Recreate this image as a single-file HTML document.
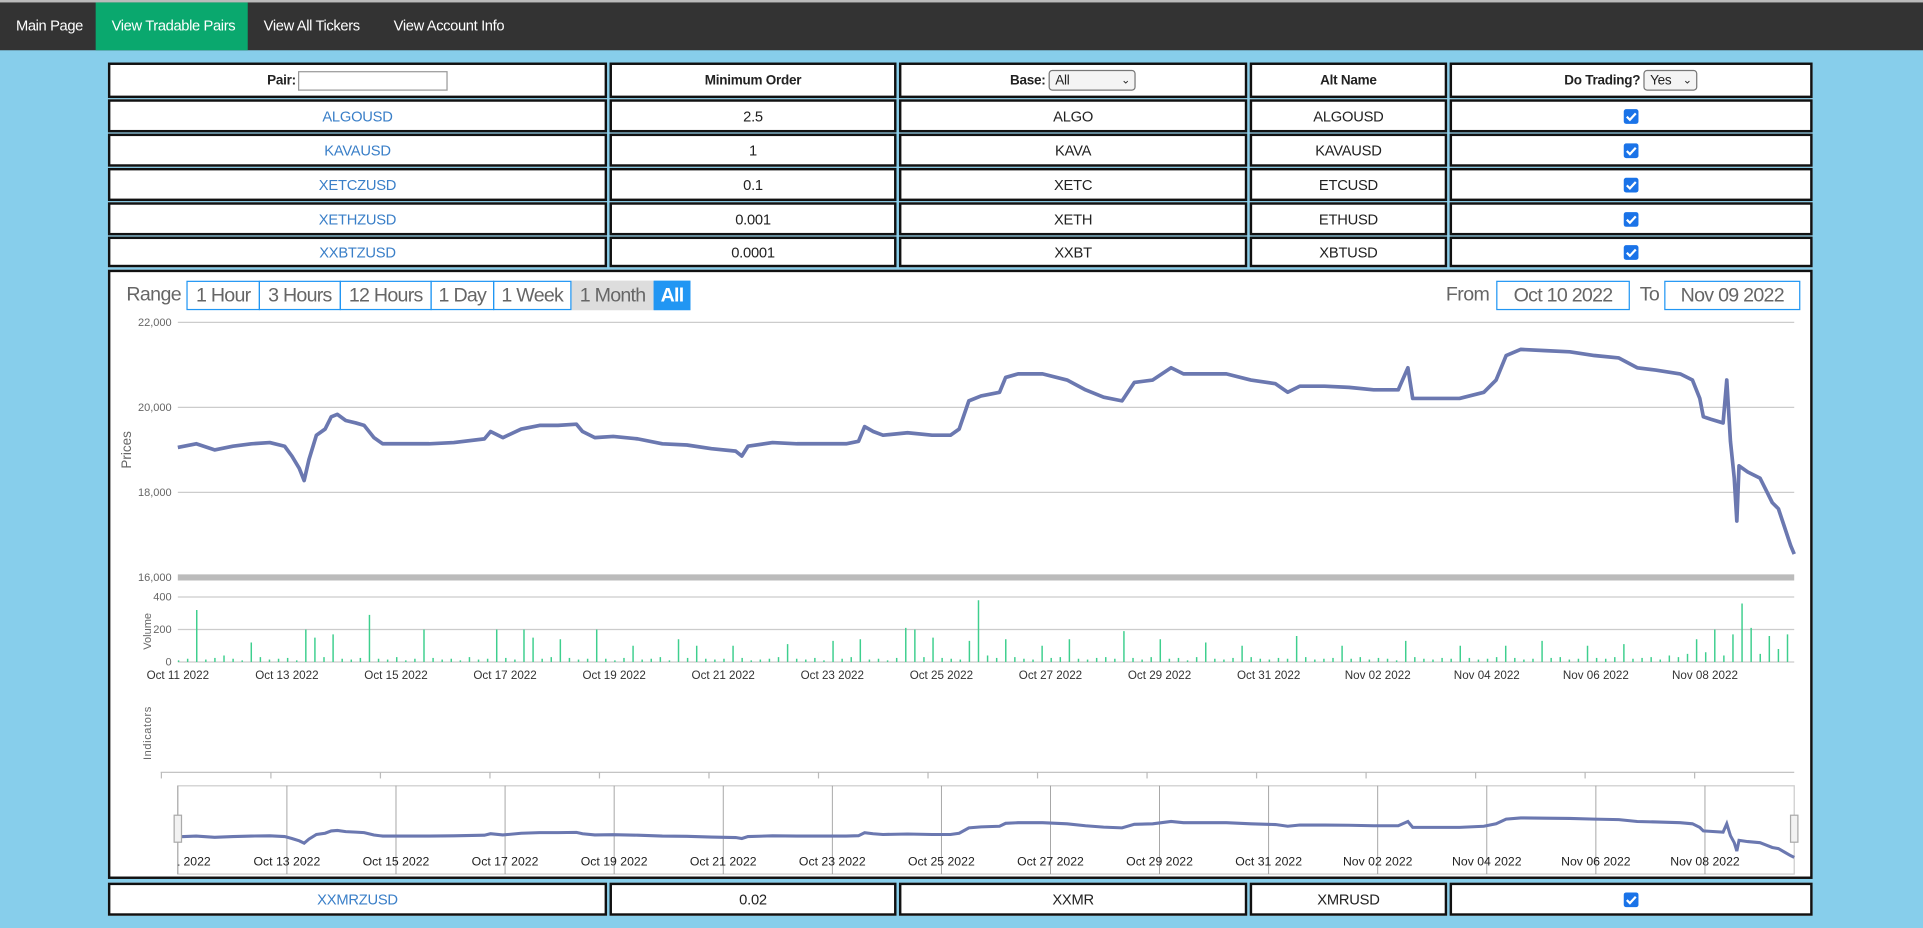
<!DOCTYPE html>
<html><head><meta charset="utf-8">
<style>
html,body{margin:0;padding:0;width:1923px;height:928px;overflow:hidden;background:#87ceeb;font-family:"Liberation Sans",sans-serif}
#wrap{position:absolute;left:0;top:0;width:1568px;height:757px;transform:scale(1.2264,1.2259);transform-origin:0 0}
.nav{position:absolute;left:0;top:0;width:1568px;height:41px;background:#333;border-top:2px solid #bbb;box-sizing:border-box}
.ni{position:absolute;top:0;height:39px;line-height:39px;color:#fff;font-size:12px;letter-spacing:-0.3px;padding:0 13px;white-space:nowrap}
.c{position:absolute;border:2px solid #111;background:#fff;box-sizing:border-box;display:flex;align-items:center;justify-content:center;font-size:12px;letter-spacing:-0.2px;color:#222;white-space:nowrap}
.h{font-weight:bold;font-size:11px}
.lk{color:#3a7fc8}
.cb{width:12px;height:12px;background:#1a73e8;border-radius:2px;display:inline-block;position:relative}
.sel{border:1px solid #777;border-radius:3px;height:17px;font-size:11px;font-weight:normal;display:inline-flex;align-items:center;padding:0 4px;box-sizing:border-box;margin-left:3px;background:#f4f4f4;justify-content:space-between}
.btn{position:absolute;top:229px;height:24px;line-height:24px;font-size:16px;letter-spacing:-0.6px;color:#666;border:1px solid #2196f3;box-sizing:border-box;text-align:center;white-space:nowrap}
.tx{position:absolute;font-size:16px;letter-spacing:-0.5px;color:#666;line-height:24px}
</style></head><body>
<div id="wrap">
<div class="nav">
<div class="ni" style="left:0">Main Page</div>
<div class="ni" style="left:78px;width:98px;background:#0aa86e">View Tradable Pairs</div>
<div class="ni" style="left:202px">View All Tickers</div>
<div class="ni" style="left:308px">View Account Info</div>
</div>

<div class="c h" style="left:88px;top:51px;width:407px;height:29px">Pair:<span style="display:inline-block;width:122px;height:16px;border:1px solid #999;margin-left:2px;box-sizing:border-box"></span></div>
<div class="c h" style="left:497px;top:51px;width:234px;height:29px">Minimum Order</div>
<div class="c h" style="left:733px;top:51px;width:284px;height:29px">Base:<span class="sel" style="width:71px">All<span style="font-size:9px">&#8964;</span></span></div>
<div class="c h" style="left:1019px;top:51px;width:161px;height:29px">Alt Name</div>
<div class="c h" style="left:1182px;top:51px;width:296px;height:29px">Do Trading?<span class="sel" style="width:44px">Yes<span style="font-size:9px">&#8964;</span></span></div>

<div id="rows"></div>

<div class="c" style="left:88px;top:220px;width:1390px;height:497px"></div>
<div class="tx" style="left:103px;top:229px">Range</div>
<div class="btn" style="left:152px;width:60px">1 Hour</div>
<div class="btn" style="left:211px;width:67px">3 Hours</div>
<div class="btn" style="left:277px;width:75px">12 Hours</div>
<div class="btn" style="left:351px;width:52px">1 Day</div>
<div class="btn" style="left:402px;width:64px">1 Week</div>
<div class="btn" style="left:466px;width:67px;background:#ddd;border-color:#ddd">1 Month</div>
<div class="btn" style="left:533px;width:30px;background:#2196f3;color:#fff;font-weight:bold">All</div>
<div class="tx" style="left:1179px;top:229px">From</div>
<div class="btn" style="left:1220px;width:109px">Oct 10 2022</div>
<div class="tx" style="left:1337px;top:229px">To</div>
<div class="btn" style="left:1357px;width:111px">Nov 09 2022</div>

<svg id="ch" width="1568" height="757" style="position:absolute;left:0;top:0"></svg>

<div class="c" style="left:88px;top:720px;width:407px;height:27px"><span class="lk">XXMRZUSD</span></div>
<div class="c" style="left:497px;top:720px;width:234px;height:27px">0.02</div>
<div class="c" style="left:733px;top:720px;width:284px;height:27px">XXMR</div>
<div class="c" style="left:1019px;top:720px;width:161px;height:27px">XMRUSD</div>
<div class="c" style="left:1182px;top:720px;width:296px;height:27px"><span class="cb"><svg width="12" height="12" style="position:absolute;left:0;top:0"><path d="M2.5 6.2 L5 8.7 L9.8 3.5" stroke="#fff" stroke-width="1.8" fill="none"/></svg></span></div>
</div>

<script>
const pairs=["ALGOUSD","KAVAUSD","XETCZUSD","XETHZUSD","XXBTZUSD"];
const minOrders=["2.5","1","0.1","0.001","0.0001"];
const bases=["ALGO","KAVA","XETC","XETH","XXBT"];
const alts=["ALGOUSD","KAVAUSD","ETCUSD","ETHUSD","XBTUSD"];
const rowTops=[81,109,137,165,193];
const rowH=[27,27,27,27,25];
const cols=[[88,407],[497,234],[733,284],[1019,161],[1182,296]];
const rowsEl=document.getElementById('rows');
pairs.forEach((p,i)=>{
  const vals=[p,minOrders[i],bases[i],alts[i],''];
  vals.forEach((v,j)=>{
    const d=document.createElement('div');
    d.className='c';
    d.style.cssText=`left:${cols[j][0]}px;top:${rowTops[i]}px;width:${cols[j][1]}px;height:${rowH[i]}px`;
    
    
    if(j===0){d.innerHTML=`<span class="lk">${v}</span>`;}
    else if(j===4){d.innerHTML='<span class="cb"><svg width="12" height="12" style="position:absolute;left:0;top:0"><path d="M2.5 6.2 L5 8.7 L9.8 3.5" stroke="#fff" stroke-width="1.8" fill="none"/></svg></span>';}
    else d.textContent=v;
    rowsEl.appendChild(d);
  });
});
</script>
<script>
const hours=[0,8.1,16.2,24.3,32.4,40.5,47,50.2,53.4,55.6,57.7,61,64.8,67.5,70.2,73.9,78.3,82,86.3,90.1,99.8,110.6,121.4,134.9,137.6,143,151.1,159.2,167.3,175.4,178.1,183.5,191.6,202.4,213.2,224,234.8,245.5,248.2,250.9,261.7,272.5,283.3,294.1,299.5,302.2,306,310.3,321.1,331.9,340,343.8,348.1,353.5,361.6,364.3,369.7,380.5,391.3,399.4,407.4,415.5,420.9,429,437.1,442.5,450.6,461.4,472.2,483,488.4,493.8,504.6,515.4,526.2,537,541.3,543.4,553.2,564,574.7,580.1,584.5,590.9,601.7,612.5,623.3,634.1,642.2,650.3,661.1,666.5,669.7,671.3,674.6,680,681.6,683.2,684.9,686,687,690.8,696.2,698.9,701.6,704.3,707,709.7,711.3];
const prices=[19058,19145,19000,19087,19145,19174,19087,18856,18568,18279,18770,19347,19491,19779,19837,19693,19635,19577,19289,19145,19145,19145,19174,19260,19433,19289,19491,19577,19577,19606,19433,19289,19318,19260,19145,19116,19029,18972,18856,19087,19174,19145,19145,19145,19202,19548,19433,19347,19404,19347,19347,19491,20154,20270,20356,20703,20789,20789,20645,20414,20241,20154,20587,20645,20933,20789,20789,20789,20645,20558,20356,20500,20500,20472,20414,20414,20933,20212,20212,20212,20356,20645,21222,21366,21337,21308,21222,21164,20933,20876,20789,20645,20212,19779,19722,19635,20645,19202,18337,17327,18625,18481,18337,18048,17760,17616,17183,16750,16548];
const volumes=[10,20,320,15,25,40,20,10,120,30,15,20,25,10,200,150,30,170,20,15,
25,290,20,15,30,10,20,200,25,15,20,10,30,15,20,200,25,15,200,150,
20,30,140,25,15,20,200,20,10,25,100,15,20,30,10,140,25,100,20,15,
20,100,25,10,15,20,30,110,20,15,25,10,130,20,30,140,15,20,10,25,
210,200,30,150,25,20,15,130,380,40,25,140,30,20,15,100,25,30,140,20,
15,25,30,20,190,25,15,30,140,20,25,10,30,120,20,15,25,100,30,20,
15,25,20,160,30,15,20,25,100,20,30,15,25,20,10,130,30,20,15,25,
20,100,25,15,20,30,100,25,15,20,130,25,30,15,20,100,25,20,30,110,
20,25,30,15,40,30,50,140,60,200,40,170,360,210,50,160,80,170];
const volStep=4;
const priceTicks=[16000,18000,20000,22000];
const volTicks=[0,200,400];
const dateLabels=["Oct 11 2022","Oct 13 2022","Oct 15 2022","Oct 17 2022","Oct 19 2022","Oct 21 2022","Oct 23 2022","Oct 25 2022","Oct 27 2022","Oct 29 2022","Oct 31 2022","Nov 02 2022","Nov 04 2022","Nov 06 2022","Nov 08 2022"];
const labelHours=dateLabels.map((d,i)=>i*48);

const X0=145,X1=1463;
const xT=h=>X0+h*1.853;
const yP=p=>471-(p-16000)*0.03467;
const yV=v=>540-v*0.1325;
const yN=p=>683-(p-19000)*0.00667;
const svg=document.getElementById('ch');
const NS='http://www.w3.org/2000/svg';
function mk(tag,attrs,name){const e=document.createElementNS(NS,tag);for(const k in attrs)e.setAttribute(k,attrs[k]);

svg.appendChild(e);return e;}

priceTicks.forEach(t=>{
  const y=yP(t);
  mk('line',{x1:X0,x2:X1,y1:y,y2:y,stroke:t===16000?'#bbb':'#ccc','stroke-width':t===16000?5:1},'price-gridline');
  const tx=mk('text',{x:140,y:y+3,'text-anchor':'end','font-size':9,fill:'#666'},'price-tick-label');
  tx.textContent=t.toLocaleString('en-US');
});
const pt=mk('text',{x:0,y:0,'font-size':11,fill:'#666','text-anchor':'middle',transform:'translate(107,367) rotate(-90)'},'y-axis-title-prices');pt.textContent='Prices';
volTicks.forEach(t=>{
  const y=yV(t);
  mk('line',{x1:X0,x2:X1,y1:y,y2:y,stroke:'#ccc','stroke-width':1},'volume-gridline');
  const tx=mk('text',{x:140,y:y+3,'text-anchor':'end','font-size':9,fill:'#666'},'volume-tick-label');tx.textContent=t;
});
const vt=mk('text',{x:0,y:0,'font-size':9,fill:'#666','text-anchor':'middle',transform:'translate(123,515) rotate(-90)'},'y-axis-title-volume');vt.textContent='Volume';
volumes.forEach((v,i)=>{
  const x=xT(i*volStep);
  mk('rect',{x:x,y:yV(v),width:1.2,height:yV(0)-yV(v),fill:'#3ecf8e'},'volume-bar');
});
let d='';hours.forEach((h,i)=>{d+=(i?'L':'M')+xT(h).toFixed(1)+' '+yP(prices[i]).toFixed(1);});
mk('path',{d:d,fill:'none',stroke:'#6b78b0','stroke-width':3,'stroke-linejoin':'round'},'price-line');
dateLabels.forEach((l,i)=>{
  const x=xT(labelHours[i]);
  const t=mk('text',{x:x,y:554,'text-anchor':'middle','font-size':9.5,fill:'#333'},'x-tick-label');t.textContent=l;
});
const it=mk('text',{x:0,y:0,'font-size':9,fill:'#666','text-anchor':'middle','letter-spacing':'0.5',transform:'translate(123,598) rotate(-90)'},'y-axis-title-indicators');it.textContent='Indicators';
mk('line',{x1:131,x2:X1,y1:630,y2:630,stroke:'#bbb'},'indicator-axis');
for(let k=0;k<15;k++){const x=131.6+k*89.3;mk('line',{x1:x,x2:x,y1:630,y2:635,stroke:'#bbb'},'indicator-tick');}
mk('rect',{x:X0,y:641,width:X1-X0,height:72,fill:'none',stroke:'#ccc'},'navigator-frame');
labelHours.forEach((h,i)=>{const x=xT(h);mk('line',{x1:x,x2:x,y1:641,y2:713,stroke:'#999','stroke-width':0.7},'navigator-gridline');});
let dn='';hours.forEach((h,i)=>{dn+=(i?'L':'M')+xT(h).toFixed(1)+' '+yN(prices[i]).toFixed(1);});
mk('path',{d:dn,fill:'none',stroke:'#6b78b0','stroke-width':2.5},'navigator-line');
const cp=mk('clipPath',{id:'nc'},'navigator-clip');const cr=document.createElementNS(NS,'rect');cr.setAttribute('x',X0);cr.setAttribute('y',690);cr.setAttribute('width',X1-X0);cr.setAttribute('height',25);cp.appendChild(cr);
dateLabels.forEach((l,i)=>{
  const t=mk('text',{x:xT(labelHours[i]),y:706,'text-anchor':'middle','font-size':10,fill:'#222','clip-path':'url(#nc)'},'navigator-label');t.textContent=l;
});
const h1=mk('rect',{x:X0-3,y:665,width:6,height:22,fill:'#f2f2f2',stroke:'#aaa'},'navigator-handle-left');
const h2=mk('rect',{x:X1-3,y:665,width:6,height:22,fill:'#f2f2f2',stroke:'#aaa'},'navigator-handle-right');
</script>
</body></html>
